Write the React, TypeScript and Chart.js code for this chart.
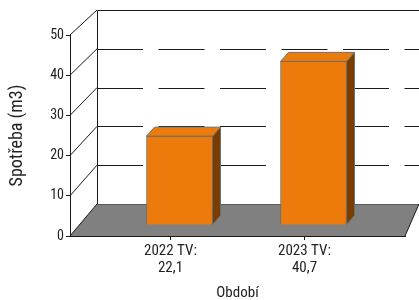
import React, { useEffect, useRef } from "react";
import { Chart, registerables } from "chart.js";

Chart.register(...registerables);

// ---- data ----
const categoryLines = [
  ["2022 TV:", "22,1"],
  ["2023 TV:", "40,7"],
];
const categoryPositions = [0, 1];
const consumption = [22.1, 40.7];
const yTitle = "Spotřeba (m3)";
const xTitle = "Období";

// ---- styles ----
const FONT = "'Roboto Condensed', Roboto, 'DejaVu Sans', sans-serif";
const TEXT = "#222222";
const ORANGE = "#EC7B0B";
const SIDE = "#7A3D00";
const BAR_EDGE = "#6E6E6E";
const FLOOR = "#808080";
const FLOOR_EDGE = "#5A5A5A";
const LINE = "#1A1A1A";

const DEPTH_X = 27; // back wall offset
const BACK_TOP_OFFSET = -25;
const BACK_SCALE = 0.965;
const RIGHT_DEPTH_X = 14;
const BAR_DX = 9;
const BAR_DY = -11;
const FACE_DX = 8;
const FACE_DY = -9;

const wallsPlugin = {
  id: "walls3d",
  beforeDraw(chart: any) {
    const { ctx, chartArea: a, scales } = chart;
    const ys = scales.y;
    const L = a.left;
    const R = a.right;
    const bx = L + DEPTH_X;
    const backTop = a.top + BACK_TOP_OFFSET;
    const by = (v: number) => backTop + (ys.getPixelForValue(v) - a.top) * BACK_SCALE;
    const fy = (v: number) => ys.getPixelForValue(v);
    const W = chart.width;
    const ticks = ys.ticks.map((t: any) => t.value);
    const maxV = ys.max;
    const minV = ys.min;

    ctx.save();
    ctx.fillStyle = "#ffffff";
    ctx.fillRect(0, 0, W, chart.height);

    // back wall dashed gridlines
    ctx.strokeStyle = LINE;
    ctx.lineWidth = 1;
    ctx.setLineDash([46, 15.5]);
    ticks.forEach((v: number) => {
      if (v === minV || v === maxV) return;
      const yy = Math.round(by(v)) + 0.5;
      ctx.beginPath();
      ctx.moveTo(bx, yy);
      ctx.lineTo(W, yy);
      ctx.stroke();
    });
    ctx.setLineDash([]);

    // back wall top and left edge
    const topY = Math.round(by(maxV)) + 0.5;
    ctx.beginPath();
    ctx.moveTo(bx + 0.5, Math.round(by(minV)));
    ctx.lineTo(bx + 0.5, topY);
    ctx.lineTo(W, topY);
    ctx.stroke();

    // left wall diagonals
    ticks.forEach((v: number) => {
      if (v === minV) return;
      ctx.beginPath();
      ctx.moveTo(L, fy(v));
      ctx.lineTo(bx, by(v));
      ctx.stroke();
    });

    // floor
    const f0 = fy(minV);
    const b0 = by(minV);
    ctx.beginPath();
    ctx.moveTo(L, f0);
    ctx.lineTo(R, f0);
    ctx.lineTo(R + RIGHT_DEPTH_X, b0);
    ctx.lineTo(bx, b0);
    ctx.closePath();
    ctx.fillStyle = FLOOR;
    ctx.fill();
    ctx.strokeStyle = FLOOR_EDGE;
    ctx.beginPath();
    ctx.moveTo(bx, Math.round(b0) + 0.5);
    ctx.lineTo(R + RIGHT_DEPTH_X, Math.round(b0) + 0.5);
    ctx.stroke();
    ctx.strokeStyle = LINE;
    ctx.beginPath();
    ctx.moveTo(L, f0);
    ctx.lineTo(bx, b0);
    ctx.moveTo(R, f0);
    ctx.lineTo(R + RIGHT_DEPTH_X, b0);
    ctx.stroke();
    ctx.restore();
  },
  beforeDatasetsDraw(chart: any) {
    chart.ctx.save();
    chart.ctx.translate(BAR_DX, BAR_DY);
  },
  afterDatasetsDraw(chart: any) {
    const ctx = chart.ctx;
    ctx.restore();
    const meta = chart.getDatasetMeta(0);
    ctx.save();
    ctx.lineWidth = 1;
    ctx.strokeStyle = BAR_EDGE;
    meta.data.forEach((el: any) => {
      const { x, y, base, width } = el.getProps(["x", "y", "base", "width"], true);
      const left = x - width / 2 + BAR_DX;
      const right = x + width / 2 + BAR_DX;
      const top = y + BAR_DY;
      const bottom = base + BAR_DY;
      // side face
      ctx.beginPath();
      ctx.moveTo(right, top);
      ctx.lineTo(right + FACE_DX, top + FACE_DY);
      ctx.lineTo(right + FACE_DX, bottom + FACE_DY);
      ctx.lineTo(right, bottom);
      ctx.closePath();
      ctx.fillStyle = SIDE;
      ctx.fill();
      ctx.stroke();
      // top face
      ctx.beginPath();
      ctx.moveTo(left, top);
      ctx.lineTo(left + FACE_DX, top + FACE_DY);
      ctx.lineTo(right + FACE_DX, top + FACE_DY);
      ctx.lineTo(right, top);
      ctx.closePath();
      ctx.fillStyle = ORANGE;
      ctx.fill();
      ctx.stroke();
    });
    ctx.restore();
  },
};

export default function App() {
  const ref = useRef<HTMLCanvasElement | null>(null);

  useEffect(() => {
    if (!ref.current) return;
    const chart = new Chart(ref.current, {
      type: "bar",
      data: {
        datasets: [
          {
            label: yTitle,
            data: consumption.map((v, i) => ({ x: categoryPositions[i], y: v })),
            backgroundColor: ORANGE,
            borderColor: BAR_EDGE,
            borderWidth: 1,
            barThickness: 66,
          },
        ],
      },
      options: {
        animation: false,
        responsive: true,
        maintainAspectRatio: false,
        layout: { padding: { top: 35, right: 14, left: 0, bottom: 0 } },
        plugins: { legend: { display: false }, tooltip: { enabled: false } },
        scales: {
          x: {
            type: "linear",
            min: -0.75,
            max: 1.75,
            offset: false,
            afterBuildTicks: (s: any) => {
              s.ticks = categoryPositions.map((v) => ({ value: v }));
            },
            afterFit: (s: any) => {
              s.height = 64;
            },
            grid: { drawOnChartArea: false, offset: false, tickLength: 4, color: LINE },
            border: { display: true, color: LINE },
            ticks: {
              autoSkip: false,
              maxRotation: 0,
              padding: 3,
              color: TEXT,
              font: { family: FONT, size: 15, lineHeight: 1.13 },
              callback: (_v: any, i: number) => categoryLines[i],
            },
            title: {
              display: true,
              text: xTitle,
              color: TEXT,
              font: { family: FONT, size: 15 },
              padding: { top: 0, bottom: -2 },
            },
          },
          y: {
            min: 0,
            max: 50,
            afterFit: (s: any) => {
              s.width = 70;
            },
            grid: { drawOnChartArea: false, tickLength: 4, color: LINE },
            border: { display: true, color: LINE },
            ticks: {
              stepSize: 10,
              padding: 2,
              color: TEXT,
              font: { family: FONT, size: 14 },
            },
            title: {
              display: true,
              text: yTitle,
              color: TEXT,
              font: { family: FONT, size: 18 },
              padding: { top: 7, bottom: 0 },
            },
          },
        },
      },
      plugins: [wallsPlugin],
    } as any);
    return () => chart.destroy();
  }, []);

  return (
    <div style={{ position: "absolute", left: 0, top: 0, width: 419, height: 300 }}>
      <canvas ref={ref} />
    </div>
  );
}
